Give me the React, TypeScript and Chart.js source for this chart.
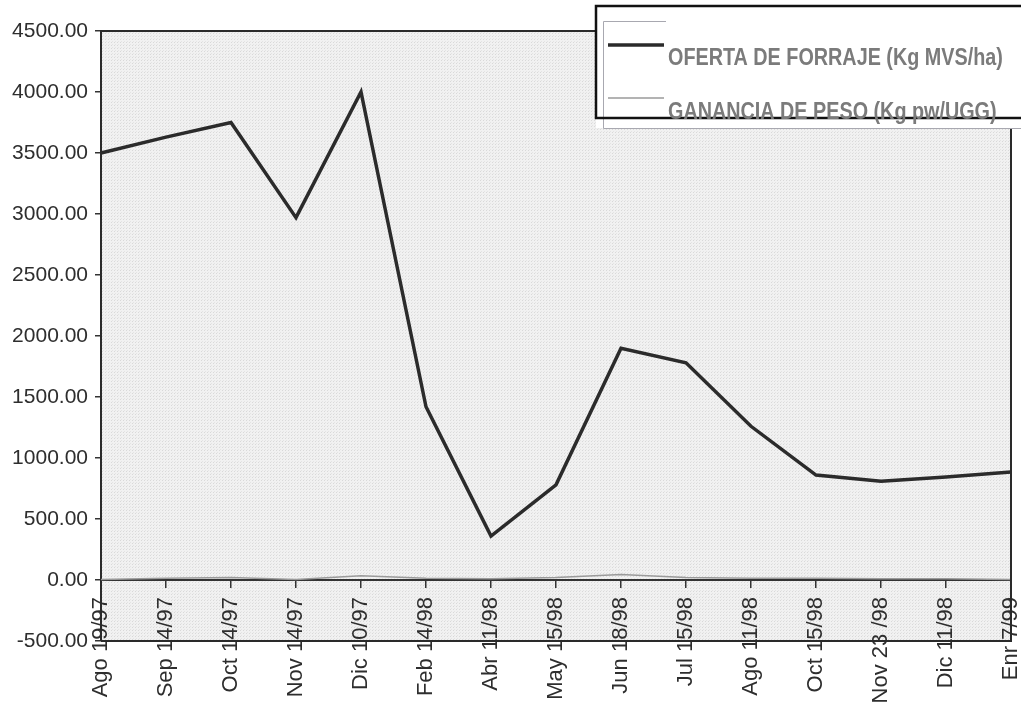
import React, { useEffect, useRef } from 'react';
import { Chart, registerables } from 'chart.js';

Chart.register(...registerables);

const categories = [
  'Ago 19/97', 'Sep 14/97', 'Oct 14/97', 'Nov 14/97', 'Dic 10/97',
  'Feb 14/98', 'Abr 11/98', 'May 15/98', 'Jun 18/98', 'Jul 15/98',
  'Ago 11/98', 'Oct 15/98', 'Nov 23 /98', 'Dic 11/98', 'Enr 7/99',
];
const ofertaForraje = [3500, 3630, 3750, 2970, 4000, 1420, 360, 780, 1900, 1780, 1260, 860, 810, 845, 885];
const gananciaPeso = [5, 15, 20, 5, 35, 15, 10, 20, 45, 20, 15, 15, 10, 10, 5];
const seriesNames = ['OFERTA DE FORRAJE (Kg MVS/ha)', 'GANANCIA DE PESO (Kg pw/UGG)'];
const yMin = -500;
const yMax = 4500;
const yStep = 500;

function makePattern(ctx: CanvasRenderingContext2D) {
  const c = document.createElement('canvas');
  c.width = 3;
  c.height = 3;
  const p = c.getContext('2d')!;
  p.fillStyle = '#f1f1f1';
  p.fillRect(0, 0, 3, 3);
  p.fillStyle = '#d9d9d9';
  p.fillRect(0, 0, 1, 1);
  p.fillStyle = '#e4e4e4';
  p.fillRect(1, 2, 1, 1);
  return ctx.createPattern(c, 'repeat') || '#ececec';
}

const framePlugin = {
  id: 'frame',
  beforeDraw(chart: any) {
    const { ctx, chartArea: a } = chart;
    ctx.save();
    ctx.fillStyle = makePattern(ctx);
    ctx.fillRect(a.left, a.top, a.right - a.left, a.bottom - a.top);
    ctx.restore();
  },
  afterDraw(chart: any) {
    const { ctx, chartArea: a } = chart;
    ctx.save();
    ctx.strokeStyle = '#2a2a2a';
    ctx.lineWidth = 2;
    ctx.beginPath();
    ctx.moveTo(a.left, a.top);
    ctx.lineTo(a.right, a.top);
    ctx.lineTo(a.right, a.bottom);
    ctx.lineTo(a.left, a.bottom);
    ctx.stroke();

    // legend box
    const ds = chart.data.datasets;
    ctx.fillStyle = '#ffffff';
    ctx.fillRect(596, 6, 440, 122);
    ctx.strokeStyle = '#a8a8b0';
    ctx.lineWidth = 1;
    ctx.beginPath();
    ctx.moveTo(666, 21.5);
    ctx.lineTo(603.5, 21.5);
    ctx.lineTo(603.5, 128.5);
    ctx.lineTo(1030, 128.5);
    ctx.stroke();
    ctx.strokeStyle = '#111111';
    ctx.lineWidth = 2.5;
    ctx.strokeRect(596, 6, 450, 112);

    const rows = [
      { lineY: 45, textY: 65 },
      { lineY: 98, textY: 119 },
    ];
    rows.forEach((r, i) => {
      const d = ds[i];
      ctx.strokeStyle = d.borderColor;
      ctx.lineWidth = d.borderWidth;
      ctx.beginPath();
      ctx.moveTo(608, r.lineY);
      ctx.lineTo(664, r.lineY);
      ctx.stroke();
      ctx.save();
      ctx.translate(668, r.textY);
      ctx.scale(0.86, 1);
      ctx.font = 'bold 23px "Liberation Sans", Arial, sans-serif';
      ctx.fillStyle = '#7b7b7b';
      ctx.textBaseline = 'alphabetic';
      ctx.fillText(d.label, 0, 0);
      ctx.restore();
    });
    ctx.restore();
  },
};

export default function App() {
  const ref = useRef<HTMLCanvasElement>(null);
  useEffect(() => {
    document.body.style.margin = '0';
    const chart = new Chart(ref.current!, {
      type: 'line',
      data: {
        labels: categories,
        datasets: [
          {
            label: seriesNames[0],
            data: ofertaForraje,
            borderColor: '#2b2b2b',
            borderWidth: 3.5,
            pointRadius: 0,
            tension: 0,
          },
          {
            label: seriesNames[1],
            data: gananciaPeso,
            borderColor: '#9a9a9a',
            borderWidth: 1.5,
            pointRadius: 0,
            tension: 0,
          },
        ],
      },
      options: {
        animation: false,
        responsive: true,
        maintainAspectRatio: false,
        layout: { padding: { left: 0, top: 31, right: 10, bottom: 66 } },
        plugins: { legend: { display: false }, tooltip: { enabled: false } },
        scales: {
          x: {
            type: 'category',
            position: { y: 0 } as any,
            offset: false,
            afterFit: (s: any) => { s.paddingLeft = 0; s.paddingRight = 0; },
            grid: { drawOnChartArea: false, tickLength: 7, color: '#333', lineWidth: 1.5 },
            border: { display: true, color: '#333', width: 2 },
            ticks: {
              autoSkip: false,
              minRotation: 90,
              maxRotation: 90,
              padding: 10,
              color: '#2e2e2e',
              font: { family: '"Liberation Sans", Arial, sans-serif', size: 22 },
            },
          },
          y: {
            min: yMin,
            max: yMax,
            afterFit: (s: any) => { s.width = 101; },
            grid: { drawOnChartArea: false, tickLength: 6, color: '#333', lineWidth: 1.5 },
            border: { display: true, color: '#2a2a2a', width: 2 },
            ticks: {
              stepSize: yStep,
              padding: 7,
              color: '#2e2e2e',
              font: { family: '"Liberation Sans", Arial, sans-serif', size: 21 },
              callback: (v: any) => Number(v).toFixed(2),
            },
          },
        },
      },
      plugins: [framePlugin],
    });
    return () => chart.destroy();
  }, []);
  return (
    <div style={{ position: 'absolute', left: 0, top: 0, width: 1021, height: 707 }}>
      <canvas ref={ref} />
    </div>
  );
}
